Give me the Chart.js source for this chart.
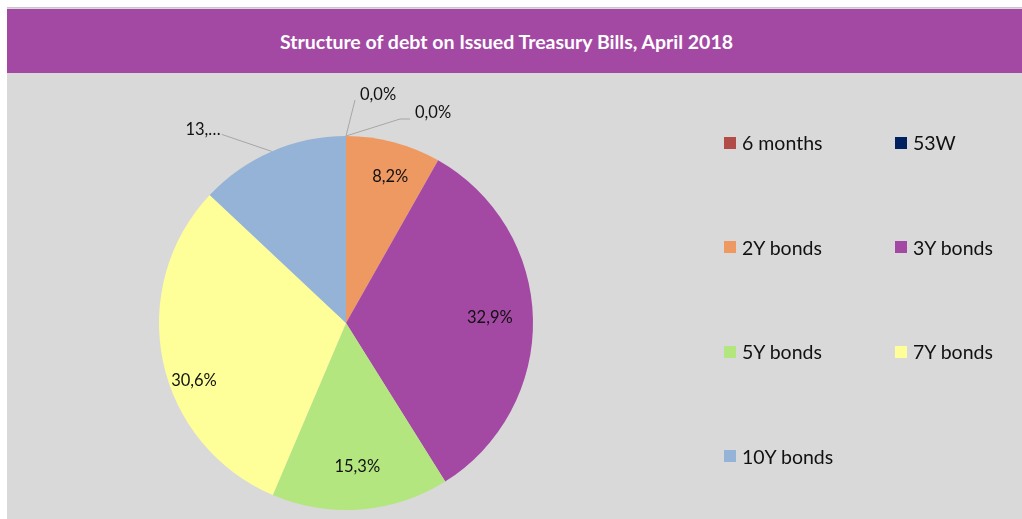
<!DOCTYPE html>
<html>
<head>
<meta charset="utf-8">
<script src="https://cdn.jsdelivr.net/npm/chart.js@4/dist/chart.umd.min.js"></script>
<style>
  html, body { margin: 0; padding: 0; background: #fff; }
  body { width: 1022px; height: 519px; position: relative; overflow: hidden; font-family: Lato, "Open Sans", sans-serif; }
  #frame { position: absolute; left: 7px; top: 7px; width: 1015px; height: 512px; background: #d9d9d9; border-top: 1px solid #c8c8c8; }
  #header { position: absolute; left: 0; top: 1px; width: 1015px; height: 64px; background: #a349a4; }
  #header h1 { margin: 0; padding-right: 16px; line-height: 66px; text-align: center; color: #fff; font-size: 19.5px; font-weight: bold; }
  #pieWrap { position: absolute; left: 0; top: 65px; width: 1015px; height: 446px; }
  #legend { position: absolute; left: 0; top: 0; }
  .item { position: absolute; display: flex; align-items: center; font-size: 19.5px; color: #111; white-space: nowrap; }
  .item span.box { width: 12px; height: 12px; margin-right: 6px; }
</style>
</head>
<body>
<div id="frame">
  <div id="header"><h1>Structure of debt on Issued Treasury Bills, April 2018</h1></div>
  <div id="pieWrap"><canvas id="debtPie"></canvas></div>
  <div id="legend"></div>
</div>
<script>
// --- datos ---
const categories = ['6 months', '53W', '2Y bonds', '3Y bonds', '5Y bonds', '7Y bonds', '10Y bonds'];
const shares     = [0.0, 0.0, 8.2, 32.9, 15.3, 30.6, 13.0];
const colors     = ['#b14c48', '#002060', '#ef9962', '#a349a4', '#b3e67e', '#ffff99', '#95b3d7'];

// posicion de las etiquetas (estilo): inside = [fraccion del radio, ajuste de angulo en grados]
const labelPlace = [
  { out: [9, -36, 0, 5, -5, 'left'] },
  { out: [54, -17, 10, 5, -6, 'left'] },
  { inside: [0.82, 2] },
  { inside: [0.77, -1] },
  { inside: [0.77, 0] },
  { inside: [0.87, -9] },
  { out: [-50, -17, 0, -1, -5, 'right'], trunc: true }
];

const fmt = v => v.toFixed(1).replace('.', ',') + '%';

// leyenda en dos columnas
const legend = document.getElementById('legend');
categories.forEach((name, i) => {
  const el = document.createElement('div');
  el.className = 'item';
  el.style.left = (i % 2 === 0 ? 717 : 888) + 'px';
  el.style.top = (123 + Math.floor(i / 2) * 104.5) + 'px';
  el.innerHTML = `<span class="box" style="background:${colors[i]}"></span>${name}`;
  legend.appendChild(el);
});

// plugin para las etiquetas de datos con lineas guia
const pieLabels = {
  id: 'pieLabels',
  afterDatasetsDraw(chart) {
    const ctx = chart.ctx;
    const arcs = chart.getDatasetMeta(0).data;
    ctx.save();
    ctx.font = '16.5px Lato, "Open Sans", sans-serif';
    ctx.fillStyle = '#111';
    ctx.textBaseline = 'middle';
    arcs.forEach((arc, i) => {
      const p = labelPlace[i];
      const { x, y, startAngle, endAngle, outerRadius } = arc.getProps(['x', 'y', 'startAngle', 'endAngle', 'outerRadius'], true);
      const mid = (startAngle + endAngle) / 2;
      let text = fmt(shares[i]);
      if (p.inside) {
        const a = mid + p.inside[1] * Math.PI / 180;
        const r = outerRadius * p.inside[0];
        ctx.textAlign = 'center';
        ctx.fillText(text, x + Math.cos(a) * r, y + Math.sin(a) * r);
      } else {
        const [dx, dy, hx, tx, ty, align] = p.out;
        const ex = x + Math.cos(mid) * outerRadius;
        const ey = y + Math.sin(mid) * outerRadius;
        ctx.strokeStyle = '#a6a6a6';
        ctx.lineWidth = 1;
        ctx.beginPath();
        ctx.moveTo(ex, ey);
        ctx.lineTo(ex + dx, ey + dy);
        if (hx) ctx.lineTo(ex + dx + hx, ey + dy);
        ctx.stroke();
        if (p.trunc) text = text.split(',')[0] + ',…';
        ctx.textAlign = align;
        ctx.fillText(text, ex + dx + hx + tx, ey + dy + ty);
      }
    });
    ctx.restore();
  }
};

document.addEventListener('DOMContentLoaded', () => {
  const canvas = document.getElementById('debtPie');
  new Chart(canvas.getContext('2d'), {
    type: 'pie',
    data: {
      labels: categories,
      datasets: [{
        data: shares,
        backgroundColor: colors,
        borderWidth: 0
      }]
    },
    options: {
      responsive: true,
      maintainAspectRatio: false,
      animation: false,
      layout: { padding: { left: 152, top: 63, right: 489, bottom: 9 } },
      plugins: {
        legend: { display: false },
        tooltip: { enabled: false }
      }
    },
    plugins: [pieLabels]
  });
});
</script>
</body>
</html>
